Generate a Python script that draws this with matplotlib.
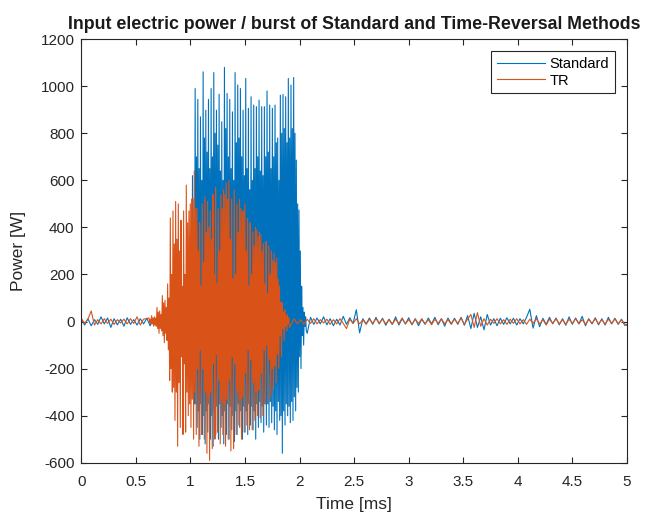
import numpy as np
import matplotlib
matplotlib.use("Agg")
from matplotlib import pyplot as plt
from matplotlib.ticker import FormatStrFormatter

# one burst cycle = tall spike, shallow trough, body peak, deep trough
cycle = 0.0244  # ms
noise_dt = 0.03  # ms

# ---- Standard ----
std_pre = [10, -15, 12, -18, 8, -12, 20, -10, 15, -25,
           12, -14, 10, -20, 16, -12, 8, -15, 12, -10,
           14, -18, 10, -12, 16, -20, 12, -15, 18, -25,
           20, -30, 40]
std_burst_start = 0.994
std_spike_hi = [300, 620, 990, 944, 870, 1061, 898, 944, 990, 1058,
                898, 966, 849, 1080, 969, 944, 891, 1058, 1005, 990,
                898, 1033, 906, 955, 920, 913, 941, 913, 913, 980,
                920, 906, 920, 780, 962, 965, 955, 1033, 1005, 1037,
                686, 474, 150, 40]
std_body_hi = [150, 400, 700, 650, 600, 780, 720, 650, 700, 800,
               750, 640, 600, 820, 700, 650, 600, 760, 780, 700,
               620, 650, 560, 600, 650, 700, 640, 620, 700, 720,
               650, 700, 760, 600, 800, 820, 760, 780, 820, 800,
               500, 300, 60, 20]
std_body_lo = [-100, -250, -350, -380, -350, -400, -380, -350, -400, -380,
               -360, -350, -400, -380, -350, -360, -400, -380, -350, -380,
               -360, -380, -350, -360, -380, -350, -340, -360, -350, -350,
               -340, -360, -380, -340, -400, -380, -350, -360, -340, -320,
               -280, -150, -60, -20]
std_spike_lo = [-150, -350, -450, -500, -480, -520, -470, -500, -530, -480,
                -500, -450, -520, -480, -500, -460, -510, -480, -450, -500,
                -470, -480, -440, -460, -500, -450, -430, -470, -440, -450,
                -430, -460, -480, -420, -560, -440, -400, -430, -420, -380,
                -300, -200, -100, -40]
std_post_start = 2.07
std_post = [-50, 18, -12, 15, -10, 20, -14, 12, -18, 10,
            -15, 22, -12, 16, -8, 50, -48, 12, -10, 15,
            -12, 18, -10, 14, -16, 10, -12, 20, -15, 12,
            -10, 16, -14, 12, -18, 10, -12, 15, -10, 18,
            -14, 12, -20, 15, -10, 14, -12, 18, -16, 25,
            -30, 35, -25, 20, -35, 30, -15, 12, -18, 14,
            -12, 16, -10, 14, -15, 12, -10, 18, 52, -28,
            25, -22, 14, -12, 18, -10, 15, -14, 12, -16,
            20, -12, 15, -10, 22, -18, 12, -10, 16, -14,
            12, -15, 18, -10, 14, -12, 10, -16]

# ---- TR ----
tr_pre = [12, -8, 10, 45, -15, 8, -10, 12, -8, 10,
          -12, 8, -6, 10, -10, 12, -8, 20, -15, 10]
tr_burst_start = 0.62
tr_spike_hi = [15, 25, 20, 60, 45, 110, 90, 160,
               440, 470, 510, 500, 430, 470, 580, 470, 520, 640,
               480, 420, 500, 530, 510, 470, 540, 570, 480, 540,
               560, 590, 600, 520, 560, 500, 520, 470, 500, 440,
               420, 380, 400, 360, 370, 330, 340, 320, 300, 290,
               270, 150, 80, 50, 30]
tr_body_hi = [10, 15, 15, 40, 30, 80, 60, 100,
              200, 330, 350, 300, 150, 200, 420, 500, 520, 480,
              300, 150, 250, 380, 400, 350, 200, 160, 300, 480,
              540, 520, 350, 180, 200, 380, 480, 470, 300, 150,
              200, 320, 390, 380, 300, 160, 120, 200, 260, 250,
              180, 80, 40, 25, 15]
tr_body_lo = [-5, -10, -15, -30, -30, -60, -50, -120,
              -200, -280, -300, -260, -150, -180, -300, -350, -330, -300,
              -200, -120, -200, -300, -320, -300, -180, -140, -250, -340,
              -350, -330, -250, -150, -180, -300, -330, -320, -220, -120,
              -160, -260, -300, -290, -220, -120, -100, -160, -200, -190,
              -140, -60, -30, -20, -10]
tr_spike_lo = [-10, -20, -20, -50, -40, -90, -80, -250,
               -300, -420, -530, -450, -480, -470, -400, -450, -500, -480,
               -530, -480, -500, -560, -590, -540, -500, -470, -520, -480,
               -530, -500, -550, -540, -480, -440, -500, -470, -440, -460,
               -460, -420, -400, -410, -400, -350, -340, -320, -290, -260,
               -200, -150, -80, -40, -25]
tr_post_start = 1.92
tr_post = [-15, 12, -10, 8, -12, 10, -8, 12, -10, 8,
           -6, 10, -12, 8, -10, 12, -8, -30, 10, -8,
           12, -10, 8, -12, 10, -8, 12, -6, 10, -10,
           8, -12, 10, -8, 15, -10, 8, -12, 10, -8,
           12, -10, 8, -14, 10, -8, 12, -10, 8, -12,
           10, -8, 15, -12, 10, 30, -25, 38, -20, 12,
           -15, 10, -8, 12, -10, 8, -12, 10, -8, 12,
           -10, 8, -12, 10, -8, 12, -10, 8, -15, 10,
           -8, 12, -10, 8, -12, 10, -8, 12, -10, 8,
           -12, 10, -8, 12, -10, 8, -12, 10, -8, 12,
           -10, 8, -12]


def build(pre, start, hi, blo, bhi, lo, post_start, post):
    t_pre = np.arange(len(pre)) * noise_dt
    k = np.arange(len(hi))
    t_b = (start + k[:, None] * cycle + np.array([0, 0.25, 0.5, 0.75])[None, :] * cycle).ravel()
    v_b = np.column_stack([hi, blo, bhi, lo]).ravel()
    t_post = post_start + np.arange(len(post)) * noise_dt
    t = np.concatenate([t_pre, t_b, t_post, [5.0]])
    v = np.concatenate([pre, v_b, post, [post[-1]]])
    return t, v


std_t, std_v = build(std_pre, std_burst_start, std_spike_hi, std_body_lo,
                     std_body_hi, std_spike_lo, std_post_start, std_post)
tr_t, tr_v = build(tr_pre, tr_burst_start, tr_spike_hi, tr_body_lo,
                   tr_body_hi, tr_spike_lo, tr_post_start, tr_post)

plt.rcParams['font.family'] = ['Liberation Sans', 'DejaVu Sans']
plt.rcParams['axes.unicode_minus'] = False

fig = plt.figure(figsize=(6.51, 5.15), dpi=100)
ax = fig.add_axes([0.125, 0.1015, 0.838, 0.8225])

ax.plot(std_t, std_v, color='#0072BD', lw=0.8, label='Standard')
ax.plot(tr_t, tr_v, color='#D95319', lw=0.8, label='TR')

ax.set_xlim(0, 5)
ax.set_ylim(-600, 1200)
ax.set_xticks(np.arange(0, 5.01, 0.5))
ax.set_yticks(np.arange(-600, 1201, 200))
ax.xaxis.set_major_formatter(FormatStrFormatter('%g'))
ax.tick_params(direction='in', top=True, right=True, labelsize=11,
               length=4, width=0.8, colors='#262626', labelcolor='#262626')
ax.tick_params(axis='x', pad=9)
ax.tick_params(axis='y', pad=5)
for s in ax.spines.values():
    s.set_color('#262626')
    s.set_linewidth(0.8)

ax.set_xlabel("Time [ms]", fontsize=12.5, color='#262626', labelpad=5.5)
ax.set_ylabel("Power [W]", fontsize=12.5, color='#262626')
ax.yaxis.set_label_coords(-0.102, 0.5)
ax.set_title("Input electric power / burst of Standard and Time-Reversal Methods",
             fontsize=12.8, fontweight='bold', pad=7, color='#1a1a1a')

leg = ax.legend(loc='upper right', fontsize=10.5, fancybox=False, framealpha=1,
                edgecolor='#262626', borderaxespad=0.8, handlelength=3.3,
                handletextpad=0.3, labelspacing=0.2)
leg.get_frame().set_linewidth(0.8)

fig.savefig("out.png", dpi=100)
